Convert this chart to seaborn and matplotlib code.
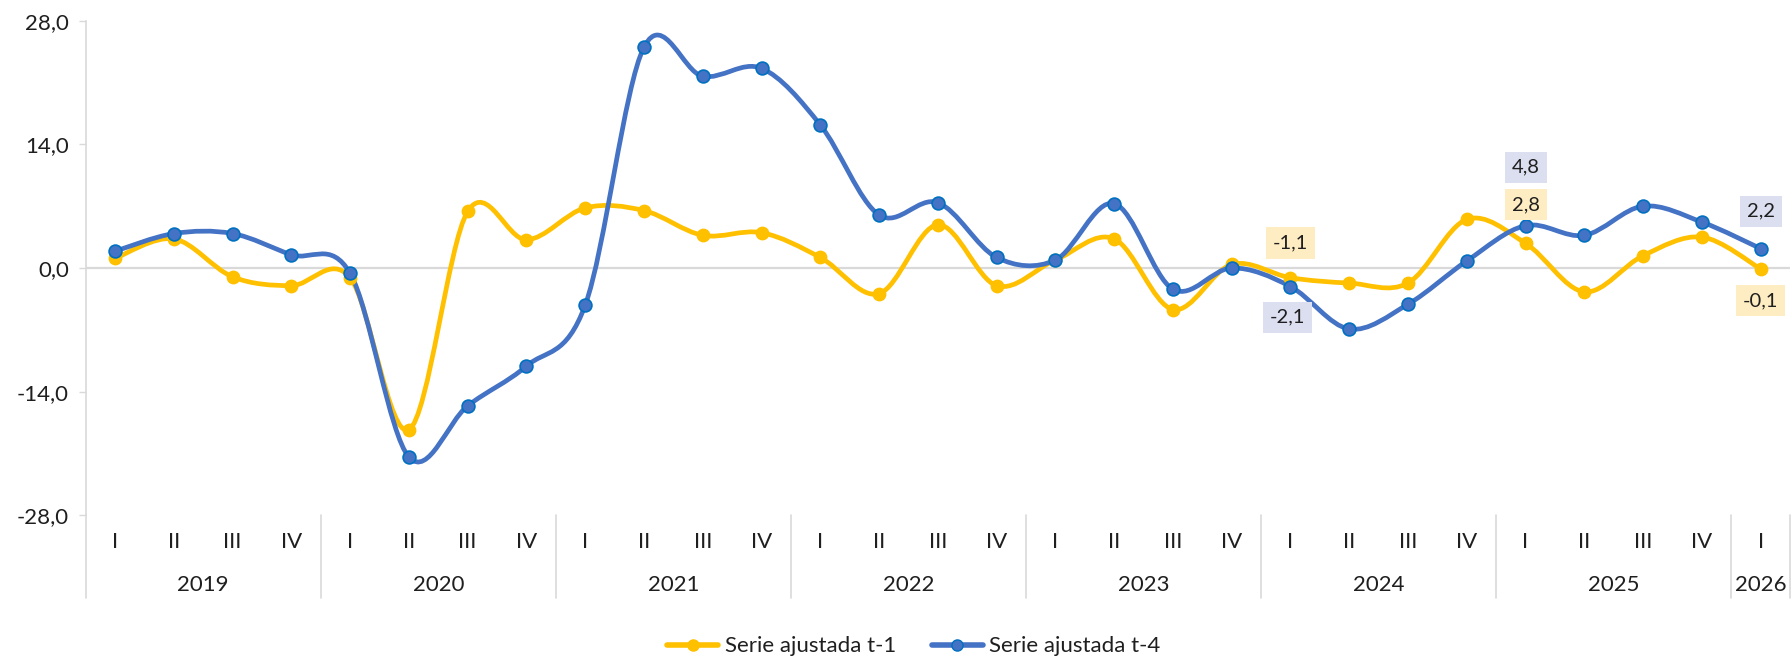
import numpy as np
import pandas as pd
import matplotlib
matplotlib.use('Agg')
import matplotlib.pyplot as plt
import seaborn as sns
from matplotlib.path import Path
from matplotlib.patches import PathPatch
from matplotlib.lines import Line2D

# ---------------- data ----------------
years = ['2019', '2020', '2021', '2022', '2023', '2024', '2025', '2026']
quarters = ['I', 'II', 'III', 'IV'] * 7 + ['I']
serie_t1 = [1.1, 3.3, -1.0, -2.0, -1.1, -18.3, 6.4, 3.2, 6.8, 6.5, 3.7, 4.0,
            1.2, -2.9, 4.9, -2.0, 0.9, 3.3, -4.7, 0.4, -1.1, -1.7, -1.7, 5.5,
            2.8, -2.7, 1.4, 3.5, -0.1]
serie_t4 = [1.9, 3.9, 3.9, 1.5, -0.6, -21.4, -15.6, -11.1, -4.2, 25.0, 21.7, 22.6,
            16.2, 6.0, 7.4, 1.2, 0.9, 7.3, -2.4, 0.0, -2.1, -6.9, -4.1, 0.8,
            4.8, 3.7, 7.0, 5.2, 2.2]
labels_t1 = [20, 24, 28]
labels_t4 = [20, 24, 28]
series_names = ['Serie ajustada t-1', 'Serie ajustada t-4']
y_ticks = [-28, -14, 0, 14, 28]

# ---------------- style ----------------
sns.set_theme(style='white')
plt.rcParams['font.family'] = ['Lato', 'DejaVu Sans']

YEL = '#FFC000'
BLU = '#4472C4'
BLU_EDGE = '#0070C0'
GRID = '#D9D9D9'
TXT = '#1F1F1F'
FS = 16

fig = plt.figure(figsize=(17.92, 6.61), dpi=100)
ax = fig.add_axes([0.0478, 0.2203, 0.9511, 0.7485])

n = len(quarters)
xs = np.arange(n)
df = pd.DataFrame({'x': np.concatenate([xs, xs]),
                   'valor': serie_t1 + serie_t4,
                   'serie': [series_names[0]] * n + [series_names[1]] * n})


def smooth_path(x, y):
    pts = np.column_stack([x, y]).astype(float)
    verts = [pts[0]]
    codes = [Path.MOVETO]
    m = len(pts)
    for i in range(m - 1):
        p0 = pts[i - 1] if i > 0 else pts[i]
        p3 = pts[i + 2] if i + 2 < m else pts[i + 1]
        c1 = pts[i] + (pts[i + 1] - p0) / 6.0
        c2 = pts[i + 1] - (p3 - pts[i]) / 6.0
        verts += [c1, c2, pts[i + 1]]
        codes += [Path.CURVE4] * 3
    return Path(verts, codes)


ax.axhline(0, color=GRID, lw=1.6, zorder=1)

for vals, col, z in [(serie_t1, YEL, 3), (serie_t4, BLU, 4)]:
    patch = PathPatch(smooth_path(xs, vals), facecolor='none', edgecolor=col,
                      lw=3.4, capstyle='round', joinstyle='round', zorder=z)
    ax.add_patch(patch)

sns.scatterplot(data=df[df.serie == series_names[0]], x='x', y='valor', ax=ax,
                color=YEL, edgecolor=YEL, s=80, linewidth=1, zorder=5, legend=False)
sns.scatterplot(data=df[df.serie == series_names[1]], x='x', y='valor', ax=ax,
                color=BLU, edgecolor=BLU_EDGE, s=85, linewidth=1.2, zorder=6, legend=False)

ax.set_xlim(-0.5, n - 0.5)
ax.set_ylim(-28, 28)
ax.set_yticks(y_ticks)
ax.set_yticklabels([f'{v:.1f}'.replace('.', ',') for v in y_ticks], fontsize=FS, color=TXT)
ax.set_xticks(xs)
ax.set_xticklabels(quarters, fontsize=FS, color=TXT)
ax.tick_params(axis='x', length=0, pad=12)
ax.tick_params(axis='y', length=5, width=1, color=GRID, pad=7, left=True)
ax.set_xlabel('')
ax.set_ylabel('')

for s in ['top', 'right', 'bottom']:
    ax.spines[s].set_visible(False)
ax.spines['left'].set_color(GRID)
ax.spines['left'].set_linewidth(1.2)

# year separators and labels
bounds = [-0.5]
for k in range(len(years)):
    start = 4 * k
    end = min(4 * k + 4, n)
    bounds.append(end - 0.5)
    ax.text((start + end - 1) / 2.0, -0.141, years[k], transform=ax.get_xaxis_transform(),
            ha='center', va='center', fontsize=FS, color=TXT)
for b in bounds:
    ax.plot([b, b], [0, -0.167], transform=ax.get_xaxis_transform(), color=GRID,
            lw=1.2, clip_on=False, zorder=0)

# data labels
def fmt(v):
    return f'{v:.1f}'.replace('.', ',')

off_t1 = {20: (0, 25), 24: (0, 28), 28: (0, -23)}
off_t4 = {20: (-2, -22), 24: (0, 42), 28: (0, 27)}
for i in labels_t1:
    ax.annotate(fmt(serie_t1[i]), (xs[i], serie_t1[i]), xytext=off_t1[i],
                textcoords='offset points', ha='center', va='center', fontsize=14.5, color=TXT,
                bbox=dict(boxstyle='square,pad=0.35', fc='#FEEDC2', ec='none'), zorder=8)
for i in labels_t4:
    ax.annotate(fmt(serie_t4[i]), (xs[i], serie_t4[i]), xytext=off_t4[i],
                textcoords='offset points', ha='center', va='center', fontsize=14.5, color=TXT,
                bbox=dict(boxstyle='square,pad=0.35', fc='#DCDFF0', ec='none'), zorder=8)

handles = [Line2D([0], [0], color=YEL, lw=4, marker='o', markersize=8,
                  markerfacecolor=YEL, markeredgecolor=YEL),
           Line2D([0], [0], color=BLU, lw=4, marker='o', markersize=8,
                  markerfacecolor=BLU, markeredgecolor=BLU_EDGE)]
fig.legend(handles, series_names, loc='center', bbox_to_anchor=(0.51, 0.022), ncol=2,
           frameon=False, fontsize=FS, handlelength=2.3, handletextpad=0.3,
           columnspacing=1.6, labelcolor=TXT)

fig.savefig('out.png', dpi=100)
